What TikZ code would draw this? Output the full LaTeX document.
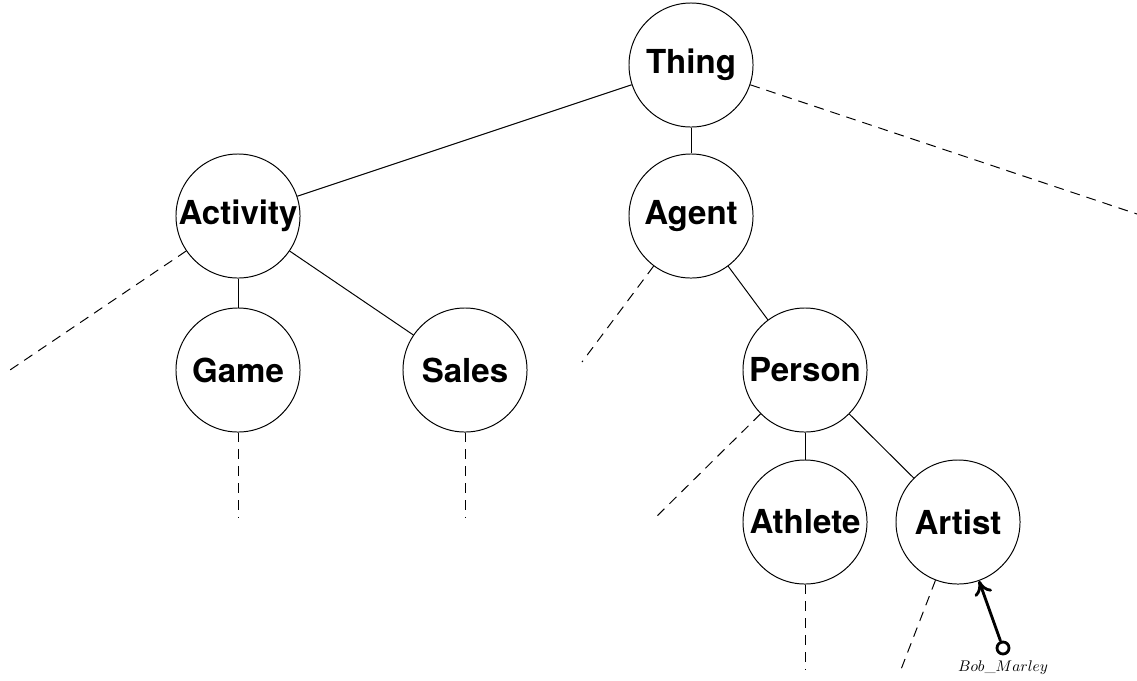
\documentclass[tikz,border=0pt]{standalone}
\usepackage{fontspec}
\setsansfont{TeX Gyre Heros}
\usetikzlibrary{arrows.meta, positioning}

\tikzset{
  cls/.style={circle, draw, line width=0.7pt, minimum size=3.1cm, inner sep=0pt,
    font=\sffamily\bfseries\fontsize{23.5}{27}\selectfont},
  edge/.style={line width=0.7pt},
  more/.style={line width=0.7pt, dash pattern=on 7pt off 5pt},
  inst/.style={circle, draw, line width=2pt, minimum size=0.3cm, inner sep=0pt}
}

\begin{document}
\begin{tikzpicture}[x=0.025cm, y=-0.025cm]
\useasboundingbox (0,0) rectangle (1137,680);

% classes
\node[cls] (thing) at (691,65) {Thing};
\node[cls] (activity) at (238,216) {Activity};
\node[cls] (agent) at (691,216) {Agent};
\node[cls] (game) at (238,370) {Game};
\node[cls] (sales) at (465,370) {Sales};
\node[cls] (person) at (805,370) {Person};
\node[cls] (athlete) at (805,522) {Athlete};
\node[cls] (artist) at (958,522) {Artist};

\draw[edge] (thing) -- (activity);
\draw[edge] (thing) -- (agent);
\draw[edge] (activity) -- (game);
\draw[edge] (activity) -- (sales);
\draw[edge] (agent) -- (person);
\draw[edge] (person) -- (athlete);
\draw[edge] (person) -- (artist);

% rest of the hierarchy
\coordinate (e1) at (1137,214);
\coordinate (e2) at (10,370);
\coordinate (e3) at (582,362);
\coordinate (e4) at (238,518);
\coordinate (e5) at (465,518);
\coordinate (e6) at (655,518);
\coordinate (e7) at (805,670);
\coordinate (e8) at (900,672);
\draw[more] (thing) -- (e1);
\draw[more] (activity) -- (e2);
\draw[more] (agent) -- (e3);
\draw[more] (game) -- (e4);
\draw[more] (sales) -- (e5);
\draw[more] (person) -- (e6);
\draw[more] (athlete) -- (e7);
\draw[more] (artist) -- (e8);

% instance
\node[inst] (bob) at (1003,648) {};
\node[below=0pt of bob, font=\fontsize{10.5}{13}\selectfont] (boblabel) {$Bob\_Marley$};
\draw[line width=2pt, -{To[length=10pt, width=13pt]}] (bob) -- (artist);

\end{tikzpicture}
\end{document}
